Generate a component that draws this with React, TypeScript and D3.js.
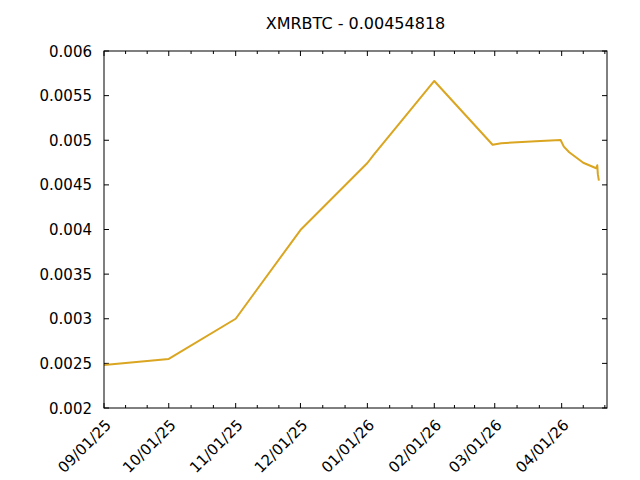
import React from "react";
import * as d3 from "d3";

const TITLE = "XMRBTC - 0.00454818";

// time series (date string, price in BTC)
const dates: string[] = [
  "2025-09-01T00:00",
  "2025-10-01T00:00",
  "2025-11-01T00:00",
  "2025-12-01T00:00",
  "2026-01-01T00:00",
  "2026-01-04T00:00",
  "2026-02-01T00:00",
  "2026-02-28T00:00",
  "2026-03-04T00:00",
  "2026-03-20T00:00",
  "2026-03-31T12:00",
  "2026-04-02T00:00",
  "2026-04-04T12:00",
  "2026-04-11T00:00",
  "2026-04-17T00:00",
  "2026-04-17T12:00",
  "2026-04-17T18:00",
  "2026-04-18T06:00",
];
const prices: number[] = [
  0.002482,
  0.00255,
  0.003,
  0.003994,
  0.004745,
  0.00484,
  0.005664,
  0.00495,
  0.004966,
  0.00499,
  0.005003,
  0.004928,
  0.004865,
  0.004748,
  0.004686,
  0.00472,
  0.00462,
  0.00454818,
];

const xDomain: string[] = ["2025-09-01T00:00", "2026-04-22T00:00"];
const yDomain: number[] = [0.002, 0.006];
const yTicks: number[] = [0.002, 0.0025, 0.003, 0.0035, 0.004, 0.0045, 0.005, 0.0055, 0.006];
const yTickLabels: string[] = ["0.002", "0.0025", "0.003", "0.0035", "0.004", "0.0045", "0.005", "0.0055", "0.006"];
const xTickDates: string[] = [
  "2025-09-01T00:00",
  "2025-10-01T00:00",
  "2025-11-01T00:00",
  "2025-12-01T00:00",
  "2026-01-01T00:00",
  "2026-02-01T00:00",
  "2026-03-01T00:00",
  "2026-04-01T00:00",
  "2026-05-01T00:00",
];
const xTickLabels: string[] = ["09/01/25", "10/01/25", "11/01/25", "12/01/25", "01/01/26", "02/01/26", "03/01/26", "04/01/26", ""];

const W = 640;
const H = 480;
const M = { left: 104, right: 33, top: 51, bottom: 72 };
const FONT = "'DejaVu Sans', sans-serif";
const FS = 15;
const COLOR = "#daa520";

export default function App() {
  const parse = (s: string) => new Date(s);
  const x = d3
    .scaleTime()
    .domain([parse(xDomain[0]), parse(xDomain[1])])
    .range([M.left, W - M.right]);
  const y = d3.scaleLinear().domain(yDomain).range([H - M.bottom, M.top]);
  const x0 = M.left;
  const x1 = W - M.right;
  const y0 = H - M.bottom;
  const y1 = M.top;

  const data = dates.map((d, i) => ({ t: parse(d), v: prices[i] }));
  const line = d3
    .line<{ t: Date; v: number }>()
    .x((d) => x(d.t))
    .y((d) => y(d.v));

  const majorX = xTickDates.map(parse);
  const minorX: number[] = [];
  for (let i = 0; i < majorX.length - 1; i++) {
    const a = x(majorX[i]);
    const b = x(majorX[i + 1]);
    for (const f of [1 / 3, 2 / 3]) {
      const p = a + (b - a) * f;
      if (p > x0 && p < x1) minorX.push(p);
    }
  }
  const MAJ = 5;
  const MIN = 3;

  return (
    <svg width={W} height={H} style={{ position: "absolute", left: 0, top: 0, background: "#fff" }}>
      <rect x={0} y={0} width={W} height={H} fill="#fff" />
      <text x={(x0 + x1) / 2} y={29} textAnchor="middle" fontFamily={FONT} fontSize={FS + 1} fill="#000">
        {TITLE}
      </text>
      {/* y ticks */}
      {yTicks.map((v, i) => (
        <g key={"y" + i}>
          <line x1={x0} x2={x0 + MAJ} y1={y(v)} y2={y(v)} stroke="#000" />
          <line x1={x1} x2={x1 - MAJ} y1={y(v)} y2={y(v)} stroke="#000" />
          <text x={x0 - 12} y={y(v) + 5.5} textAnchor="end" fontFamily={FONT} fontSize={FS} fill="#000">
            {yTickLabels[i]}
          </text>
        </g>
      ))}
      {/* x ticks */}
      {majorX.map((d, i) => {
        const px = x(d);
        if (px > x1 + 0.5) return null;
        return (
          <g key={"x" + i}>
            <line x1={px} x2={px} y1={y0} y2={y0 - MAJ} stroke="#000" />
            <line x1={px} x2={px} y1={y1} y2={y1 + MAJ} stroke="#000" />
            <text
              transform={`translate(${px + 8},${y0 + 18}) rotate(-45)`}
              textAnchor="end"
              fontFamily={FONT}
              fontSize={FS}
              fill="#000"
            >
              {xTickLabels[i]}
            </text>
          </g>
        );
      })}
      {minorX.map((px, i) => (
        <g key={"m" + i}>
          <line x1={px} x2={px} y1={y0} y2={y0 - MIN} stroke="#000" />
          <line x1={px} x2={px} y1={y1} y2={y1 + MIN} stroke="#000" />
        </g>
      ))}
      <path d={line(data) || ""} fill="none" stroke={COLOR} strokeWidth={2} strokeLinejoin="round" />
      <rect x={x0} y={y1} width={x1 - x0} height={y0 - y1} fill="none" stroke="#000" strokeWidth={1} />
    </svg>
  );
}
